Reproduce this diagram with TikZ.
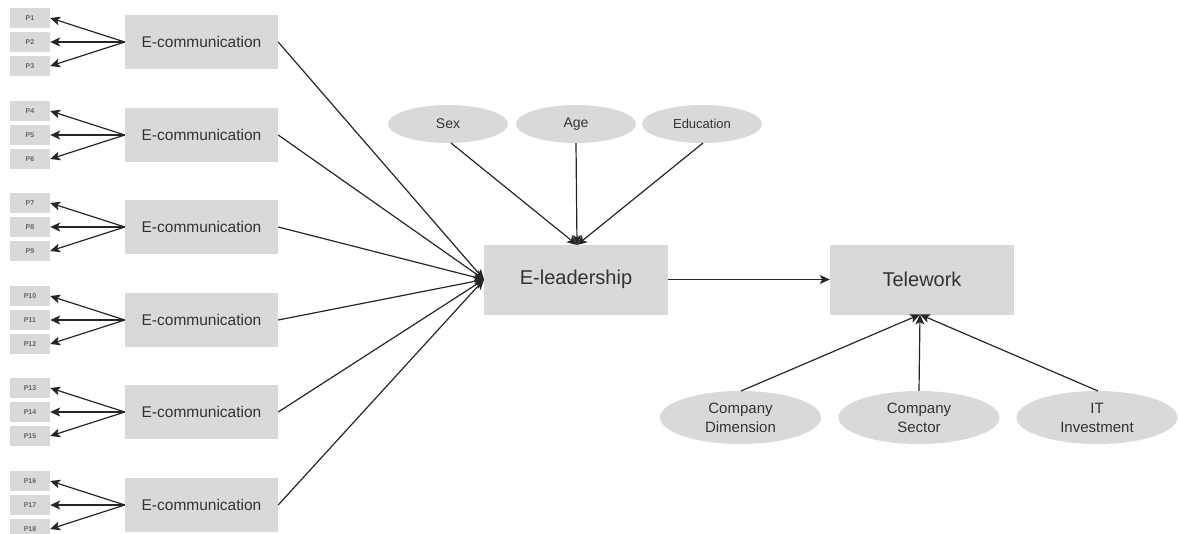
\documentclass[tikz,border=0pt]{standalone}
\usepackage{fontspec}
\setmainfont{Liberation Sans}
\usetikzlibrary{arrows.meta,shapes.geometric}
\definecolor{boxgray}{HTML}{D9D9D9}
\definecolor{txt}{HTML}{333333}
\definecolor{ptxt}{HTML}{666666}
\begin{document}
\begin{tikzpicture}[x=1pt,y=-1pt,
  pbox/.style={fill=boxgray, minimum width=40pt, minimum height=20pt, inner sep=0pt, font=\fontsize{7}{8}\selectfont\bfseries, text=ptxt},
  ecbox/.style={fill=boxgray, minimum width=153pt, minimum height=54pt, inner sep=0pt, font=\fontsize{15.5}{18}\selectfont, text=txt},
  bigbox/.style={fill=boxgray, minimum width=184pt, minimum height=70pt, inner sep=0pt, font=\fontsize{20}{24}\selectfont, text=txt},
  oval/.style={ellipse, fill=boxgray, minimum width=120pt, minimum height=38pt, inner sep=0pt, text=txt},
  bigoval/.style={ellipse, fill=boxgray, minimum width=161pt, minimum height=53pt, inner sep=0pt, text=txt, align=center, font=\fontsize{15}{19}\selectfont},
  arr/.style={-{Stealth[length=10pt,width=9pt,inset=2.5pt]}, line width=1.2pt, draw=black!85}
]
\useasboundingbox (0,0) rectangle (1178,533);

% E-communication groups
\foreach \i/\y in {1/42,2/135,3/227,4/320,5/412,6/505}{
  \node[ecbox] (ec\i) at (201.5,\y) {E-communication};
}
\foreach \i/\y [evaluate=\i as \a using int(3*\i-2), evaluate=\i as \b using int(3*\i-1), evaluate=\i as \c using int(3*\i)] in {1/42,2/135,3/227,4/320,5/412,6/505}{
  \node[pbox] (p\a) at (30,\y-24) {P\a};
  \node[pbox] (p\b) at (30,\y) {P\b};
  \node[pbox] (p\c) at (30,\y+24) {P\c};
  \draw[arr] (ec\i.west) -- (p\a.east);
  \draw[arr] (ec\i.west) -- (p\b.east);
  \draw[arr] (ec\i.west) -- (p\c.east);
}

% E-leadership and Telework
\node[bigbox] (el) at (576,279.5) {E-leadership};
\node[bigbox] (tw) at (922,279.5) {Telework};
\coordinate (elw) at (484,279.5);
\coordinate (eln) at (577,245);
\coordinate (tws) at (920,314.5);

\foreach \i in {1,...,6}{
  \draw[arr] (ec\i.east) -- (elw);
}

% Demographic ovals
\node[oval, font=\fontsize{14}{16}\selectfont] (sex) at (448,124) {Sex};
\node[oval, font=\fontsize{14}{16}\selectfont] (age) at (576,124) {Age};
\node[oval, font=\fontsize{13}{16}\selectfont] (edu) at (702,124) {Education};
\draw[arr] (451,143) -- (eln);
\draw[arr] (age.south) -- (eln);
\draw[arr] (703,143) -- (eln);

\draw[arr] (el.east) -- (tw.west);

% Company ovals
\node[bigoval] (cd) at (740.5,417.5) {Company\\Dimension};
\node[bigoval] (cs) at (919,417.5) {Company\\Sector};
\node[bigoval] (it) at (1097,417.5) {IT\\Investment};
\draw[arr] (741,391) -- (tws);
\draw[arr] (cs.north) -- (tws);
\draw[arr] (1098,391) -- (tws);
\end{tikzpicture}
\end{document}
